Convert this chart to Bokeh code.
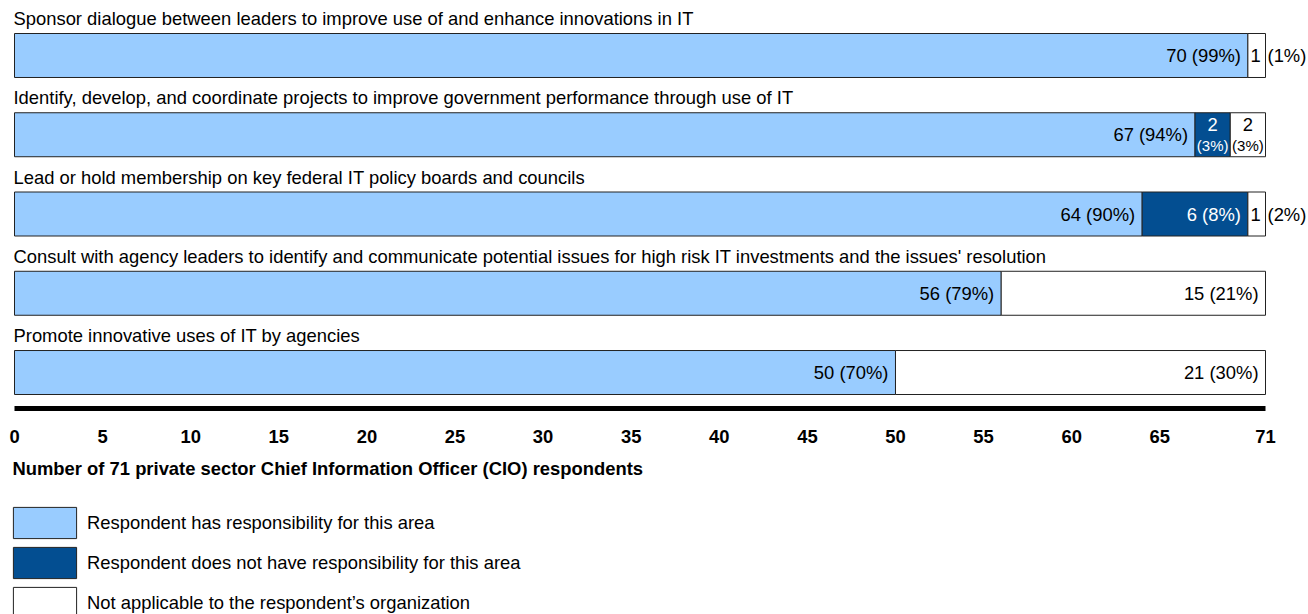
from bokeh.plotting import figure
from bokeh.layouts import column
from bokeh.models import ColumnDataSource, FixedTicker, Legend, LegendItem, Label, Range1d
from bokeh.core.properties import value
from bokeh.embed import file_html
from bokeh.resources import INLINE

# ---------------- data ----------------
categories = [
    "Sponsor dialogue between leaders to improve use of and enhance innovations in IT",
    "Identify, develop, and coordinate projects to improve government performance through use of IT",
    "Lead or hold membership on key federal IT policy boards and councils",
    "Consult with agency leaders to identify and communicate potential issues for high risk IT investments and the issues' resolution",
    "Promote innovative uses of IT by agencies",
]
has_resp = [70, 67, 64, 56, 50]
has_pct = [99, 94, 90, 79, 70]
no_resp = [0, 2, 6, 0, 0]
no_pct = [0, 3, 8, 0, 0]
not_appl = [1, 2, 1, 15, 21]
na_pct = [1, 3, 2, 21, 30]
total = 71
tick_values = [0, 5, 10, 15, 20, 25, 30, 35, 40, 45, 50, 55, 60, 65, 71]
axis_title = "Number of 71 private sector Chief Information Officer (CIO) respondents"
legend_labels = [
    "Respondent has responsibility for this area",
    "Respondent does not have responsibility for this area",
    "Not applicable to the respondent\u2019s organization",
]

# ---------------- styling ----------------
LIGHT = "#99CCFF"
DARK = "#034E91"
EDGE = "#222222"
FONT = value("Liberation Sans")
FS = "18.4px"
BAR_H = 0.555

n = len(categories)
rows = [n - 1 - i for i in range(n)]

p = figure(width=1308, height=458,
           x_range=Range1d(-0.7946, 73.44), y_range=Range1d(-0.454, 4.593),
           output_backend="svg", toolbar_location=None, y_axis_type=None,
           min_border_left=0, min_border_right=0, min_border_top=8, min_border_bottom=50)
p.grid.visible = False
p.outline_line_color = None

# segments
seg_has = ColumnDataSource(dict(y=rows, left=[0] * n, right=has_resp))
no_idx = [i for i in range(n) if no_resp[i] > 0]
seg_no = ColumnDataSource(dict(y=[rows[i] for i in no_idx],
                               left=[has_resp[i] for i in no_idx],
                               right=[has_resp[i] + no_resp[i] for i in no_idx]))
seg_na = ColumnDataSource(dict(y=rows,
                               left=[has_resp[i] + no_resp[i] for i in range(n)],
                               right=[has_resp[i] + no_resp[i] + not_appl[i] for i in range(n)]))

p.hbar(y="y", left="left", right="right", height=BAR_H, source=seg_has,
       fill_color=LIGHT, line_color=EDGE, line_width=1)
p.hbar(y="y", left="left", right="right", height=BAR_H, source=seg_no,
       fill_color=DARK, line_color=EDGE, line_width=1)
p.hbar(y="y", left="left", right="right", height=BAR_H, source=seg_na,
       fill_color="white", line_color=EDGE, line_width=1)

# category labels above bars
p.text(x=[0] * n, y=rows, text=categories, text_font=FONT, text_font_size=FS,
       text_color="black", text_align="left", text_baseline="middle",
       x_offset=-1, y_offset=-37)

# value labels
wide = dict(x=[], y=[], text=[], color=[])
single = dict(x=[], y=[], text=[], color=[])
outside = dict(x=[], y=[], text=[])
stack_top = dict(x=[], y=[], text=[], color=[])
stack_bot = dict(x=[], y=[], text=[], color=[])

for i in range(n):
    segs = [
        (has_resp[i], has_pct[i], 0, "black"),
        (no_resp[i], no_pct[i], has_resp[i], "white"),
        (not_appl[i], na_pct[i], has_resp[i] + no_resp[i], "black"),
    ]
    for c, pc, left, col in segs:
        if c == 0:
            continue
        right = left + c
        if c >= 5:
            wide["x"].append(right); wide["y"].append(rows[i])
            wide["text"].append(f"{c} ({pc}%)"); wide["color"].append(col)
        elif c == 1:
            single["x"].append((left + right) / 2); single["y"].append(rows[i])
            single["text"].append(str(c)); single["color"].append(col)
            outside["x"].append(right); outside["y"].append(rows[i])
            outside["text"].append(f"({pc}%)")
        else:
            stack_top["x"].append((left + right) / 2); stack_top["y"].append(rows[i])
            stack_top["text"].append(str(c)); stack_top["color"].append(col)
            stack_bot["x"].append((left + right) / 2); stack_bot["y"].append(rows[i])
            stack_bot["text"].append(f"({pc}%)"); stack_bot["color"].append(col)

p.text(x="x", y="y", text="text", text_color="color", source=ColumnDataSource(wide),
       text_font=FONT, text_font_size=FS, text_align="right", text_baseline="middle", x_offset=-7)
p.text(x="x", y="y", text="text", text_color="color", source=ColumnDataSource(single),
       text_font=FONT, text_font_size=FS, text_align="center", text_baseline="middle", x_offset=-1)
p.text(x="x", y="y", text="text", text_color="black", source=ColumnDataSource(outside),
       text_font=FONT, text_font_size=FS, text_align="left", text_baseline="middle", x_offset=2)
p.text(x="x", y="y", text="text", text_color="color", source=ColumnDataSource(stack_top),
       text_font=FONT, text_font_size=FS, text_align="center", text_baseline="middle", y_offset=-10)
p.text(x="x", y="y", text="text", text_color="color", source=ColumnDataSource(stack_bot),
       text_font=FONT, text_font_size="15px", text_align="center", text_baseline="middle", y_offset=11)

# x axis
ax = p.xaxis[0]
ax.ticker = FixedTicker(ticks=tick_values)
ax.bounds = (0, total)
ax.axis_line_width = 5
ax.axis_line_color = "black"
ax.major_tick_line_color = None
ax.minor_tick_line_color = None
ax.major_tick_out = 0
ax.major_tick_in = 0
ax.major_label_standoff = 21
ax.major_label_text_font = "Liberation Sans"
ax.major_label_text_font_size = FS
ax.major_label_text_font_style = "bold"
ax.major_label_text_color = "black"

# ---------------- lower panel: axis title + legend ----------------
q = figure(width=1308, height=156, x_range=Range1d(0, 1), y_range=Range1d(0, 1),
           output_backend="svg", toolbar_location=None,
           x_axis_type=None, y_axis_type=None,
           min_border_left=0, min_border_right=0, min_border_top=0, min_border_bottom=0)
q.grid.visible = False
q.outline_line_color = None

q.add_layout(Label(x=12, y=146, x_units="screen", y_units="screen", text=axis_title,
                   text_font="Liberation Sans", text_font_size=FS, text_font_style="bold",
                   text_align="left", text_baseline="middle", text_color="black"))

# key swatches: renderers kept outside the visible range, used only by the legend
key_src = ColumnDataSource(dict(y=[-5], left=[0], right=[1]))
k_has = q.hbar(y="y", left="left", right="right", height=1, source=key_src,
               fill_color=LIGHT, line_color=EDGE, line_width=1)
k_no = q.hbar(y="y", left="left", right="right", height=1, source=key_src,
              fill_color=DARK, line_color=EDGE, line_width=1)
k_na = q.hbar(y="y", left="left", right="right", height=1, source=key_src,
              fill_color="white", line_color=EDGE, line_width=1)

legend = Legend(items=[LegendItem(label=legend_labels[0], renderers=[k_has]),
                       LegendItem(label=legend_labels[1], renderers=[k_no]),
                       LegendItem(label=legend_labels[2], renderers=[k_na])],
                location=(5, -8), orientation="vertical",
                glyph_width=79, glyph_height=39, spacing=1, label_standoff=3,
                padding=0, margin=0, border_line_color=None, background_fill_alpha=0,
                label_text_font="Liberation Sans", label_text_font_size=FS,
                label_text_color="black", label_height=39)
q.add_layout(legend, "center")

layout = column(p, q, spacing=0)
open("out.html", "w").write(file_html(layout, INLINE))
